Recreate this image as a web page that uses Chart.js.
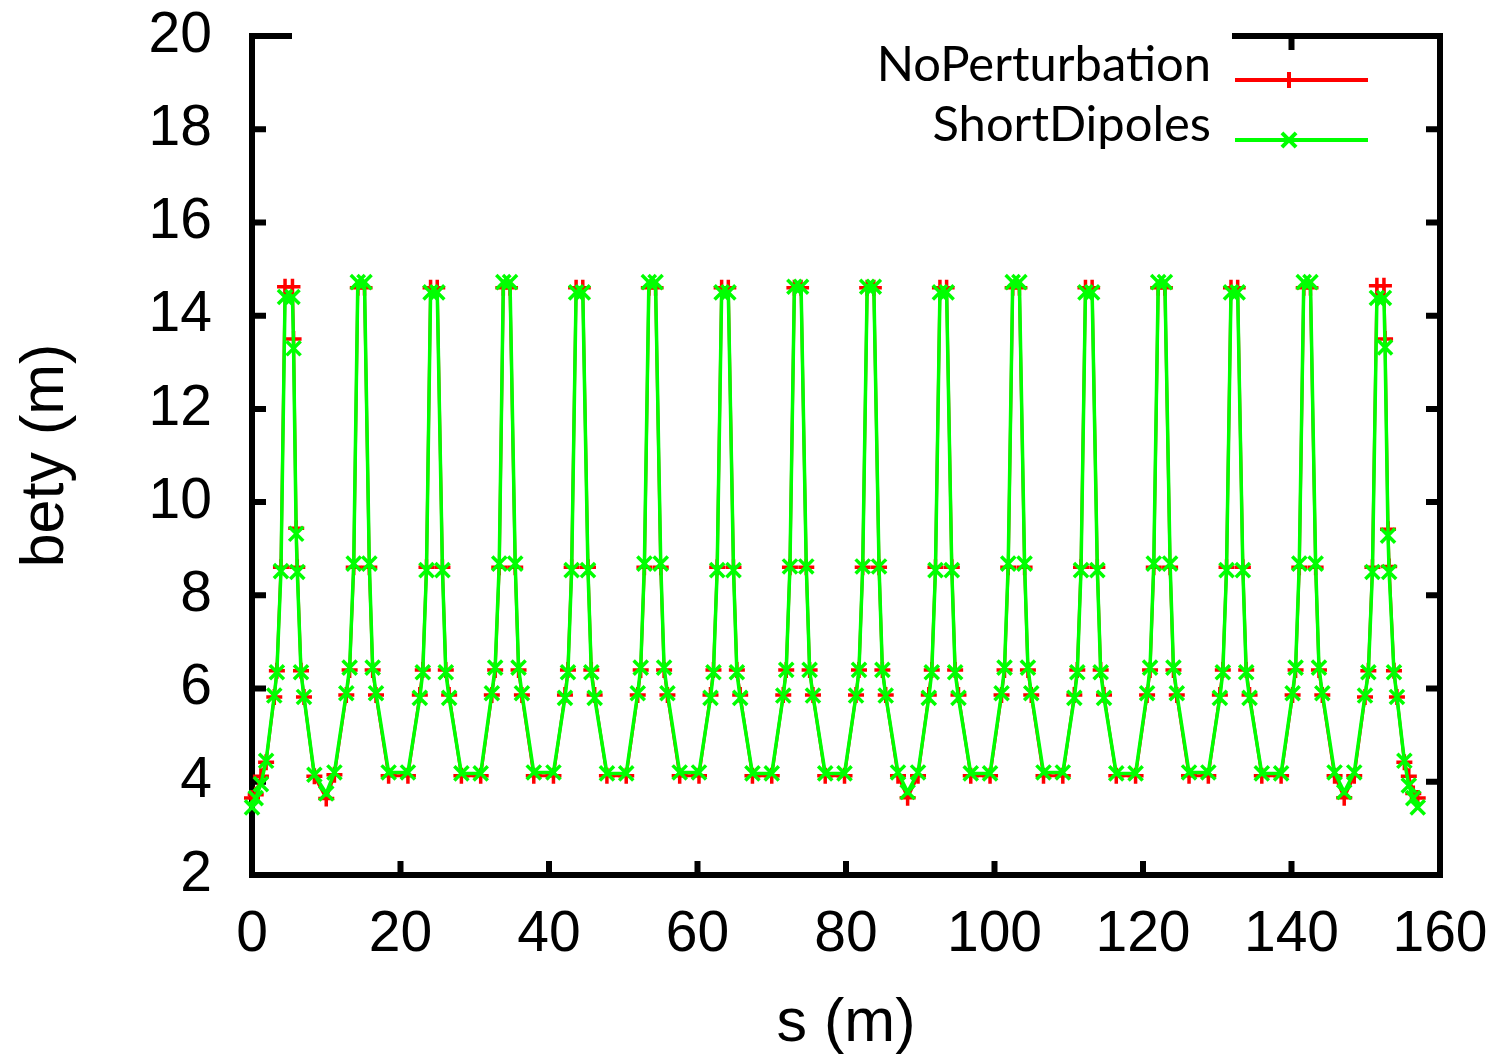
<!DOCTYPE html>
<html>
<head>
<meta charset="utf-8">
<title>bety (m)</title>
<script src="https://cdn.jsdelivr.net/npm/chart.js@4.4.1/dist/chart.umd.min.js"></script>
<style>
  html, body { margin: 0; padding: 0; background: #fff; }
  #wrap { width: 1505px; height: 1061px; position: relative; }
</style>
</head>
<body>
<div id="wrap"><canvas id="graficoBety"></canvas></div>
<script>
// posicao ao longo do anel, s (m)
const sPos = [
  0, 0.5, 1.2, 1.9,
  3.0, 3.35, 3.9, 4.45, 5.45, 5.6, 5.95, 6.1, 6.6, 7.0, 8.4, 10.0, 11.1,
  12.7, 13.15, 13.7, 14.25, 15.15, 15.8, 16.25, 16.7, 18.4, 21.0,
  22.6, 23.0, 23.5, 24.05, 24.95, 25.65, 26.1, 26.55, 28.2, 30.8,
  32.3, 32.75, 33.3, 33.85, 34.75, 35.45, 35.9, 36.35, 37.95, 40.6,
  42.15, 42.55, 43.05, 43.65, 44.55, 45.25, 45.7, 46.15, 47.8, 50.4,
  51.95, 52.35, 52.85, 53.45, 54.35, 55.05, 55.5, 55.95, 57.6, 60.2,
  61.75, 62.15, 62.65, 63.25, 64.15, 64.85, 65.3, 65.75, 67.4, 70.0,
  71.55, 71.95, 72.45, 73.05, 73.95, 74.65, 75.1, 75.55, 77.2, 79.8,
  81.35, 81.75, 82.25, 82.85, 83.75, 84.45, 84.9, 85.35, 87.0, 88.3, 89.7,
  91.15, 91.55, 92.05, 92.65, 93.55, 94.25, 94.7, 95.15, 96.8, 99.4,
  100.95, 101.35, 101.85, 102.45, 103.35, 104.05, 104.5, 104.95, 106.6, 109.2,
  110.75, 111.15, 111.65, 112.25, 113.15, 113.85, 114.3, 114.75, 116.4, 119.0,
  120.55, 120.95, 121.45, 122.05, 122.95, 123.65, 124.1, 124.55, 126.2, 128.8,
  130.35, 130.75, 131.25, 131.85, 132.75, 133.45, 133.9, 134.35, 136.0, 138.6,
  140.15, 140.55, 141.05, 141.65, 142.55, 143.25, 143.7, 144.15, 145.8, 147.1, 148.45,
  149.9, 150.35, 150.9, 151.5, 152.45, 152.6, 153.0, 153.15, 153.8, 154.2, 155.2, 155.8, 156.4, 157.0
];

// bety (m) sem perturbacao
const betyNoPerturbation = [
  3.65, 3.72, 4.12, 4.42,
  5.82, 6.38, 8.6, 14.62, 14.62, 13.5, 9.44, 8.6, 6.38, 5.82, 4.12, 3.64, 4.15,
  5.86, 6.4, 8.6, 14.6, 14.6, 8.6, 6.4, 5.86, 4.13, 4.13,
  5.86, 6.4, 8.6, 14.6, 14.6, 8.6, 6.4, 5.86, 4.13, 4.13,
  5.86, 6.4, 8.6, 14.6, 14.6, 8.6, 6.4, 5.86, 4.13, 4.13,
  5.86, 6.4, 8.6, 14.6, 14.6, 8.6, 6.4, 5.86, 4.13, 4.13,
  5.86, 6.4, 8.6, 14.6, 14.6, 8.6, 6.4, 5.86, 4.13, 4.13,
  5.86, 6.4, 8.6, 14.6, 14.6, 8.6, 6.4, 5.86, 4.13, 4.13,
  5.86, 6.4, 8.6, 14.6, 14.6, 8.6, 6.4, 5.86, 4.13, 4.13,
  5.86, 6.4, 8.6, 14.6, 14.6, 8.6, 6.4, 5.86, 4.13, 3.66, 4.13,
  5.86, 6.4, 8.6, 14.6, 14.6, 8.6, 6.4, 5.86, 4.13, 4.13,
  5.86, 6.4, 8.6, 14.6, 14.6, 8.6, 6.4, 5.86, 4.13, 4.13,
  5.86, 6.4, 8.6, 14.6, 14.6, 8.6, 6.4, 5.86, 4.13, 4.13,
  5.86, 6.4, 8.6, 14.6, 14.6, 8.6, 6.4, 5.86, 4.13, 4.13,
  5.86, 6.4, 8.6, 14.6, 14.6, 8.6, 6.4, 5.86, 4.13, 4.13,
  5.86, 6.4, 8.6, 14.6, 14.6, 8.6, 6.4, 5.86, 4.13, 3.66, 4.13,
  5.82, 6.38, 8.6, 14.64, 14.64, 13.5, 9.42, 8.62, 6.38, 5.82, 4.42, 4.12, 3.75, 3.65
];

// bety (m) com dipolos curtos
const betyShortDipoles = [
  3.45, 3.65, 3.95, 4.45,
  5.85, 6.35, 8.52, 14.4, 14.4, 13.3, 9.32, 8.5, 6.35, 5.82, 4.15, 3.75, 4.2,
  5.9, 6.45, 8.68, 14.72, 14.72, 8.68, 6.45, 5.9, 4.2, 4.2,
  5.8, 6.35, 8.54, 14.5, 14.5, 8.54, 6.35, 5.8, 4.18, 4.18,
  5.9, 6.45, 8.68, 14.72, 14.72, 8.68, 6.45, 5.9, 4.2, 4.2,
  5.8, 6.35, 8.54, 14.5, 14.5, 8.54, 6.35, 5.8, 4.18, 4.18,
  5.9, 6.45, 8.68, 14.72, 14.72, 8.68, 6.45, 5.9, 4.2, 4.2,
  5.8, 6.35, 8.54, 14.5, 14.5, 8.54, 6.35, 5.8, 4.18, 4.18,
  5.85, 6.4, 8.62, 14.62, 14.62, 8.62, 6.4, 5.85, 4.18, 4.18,
  5.85, 6.4, 8.62, 14.62, 14.62, 8.62, 6.4, 5.85, 4.2, 3.78, 4.2,
  5.8, 6.35, 8.54, 14.5, 14.5, 8.54, 6.35, 5.8, 4.18, 4.18,
  5.9, 6.45, 8.68, 14.72, 14.72, 8.68, 6.45, 5.9, 4.2, 4.2,
  5.8, 6.35, 8.54, 14.5, 14.5, 8.54, 6.35, 5.8, 4.18, 4.18,
  5.9, 6.45, 8.68, 14.72, 14.72, 8.68, 6.45, 5.9, 4.2, 4.2,
  5.8, 6.35, 8.54, 14.5, 14.5, 8.54, 6.35, 5.8, 4.18, 4.18,
  5.9, 6.45, 8.68, 14.72, 14.72, 8.68, 6.45, 5.9, 4.2, 3.78, 4.2,
  5.85, 6.35, 8.5, 14.38, 14.38, 13.32, 9.28, 8.5, 6.35, 5.82, 4.45, 3.92, 3.65, 3.45
];

const seriesNames = ['NoPerturbation', 'ShortDipoles'];
const seriesColors = ['#ff0000', '#00ff00'];
const xTicks = [0, 20, 40, 60, 80, 100, 120, 140, 160];
const yTicks = [2, 4, 6, 8, 10, 12, 14, 16, 18, 20];

const tickFont = { family: '"Liberation Sans", Arial, sans-serif', size: 57 };
const titleFont = { family: '"Liberation Sans", Arial, sans-serif', size: 61 };

// caixa do grafico desejada (px)
const areaTop = 36, areaRight = 1440;

// moldura estilo gnuplot (o topo fica parcialmente escondido pela caixa da legenda)
const moldura = {
    id: 'moldura',
    beforeDatasetsDraw(chart) {
        const { ctx, chartArea: a, scales: { x, y } } = chart;
        const gapStart = a.left + 37;
        const gapEnd = 1235;
        ctx.save();
        ctx.strokeStyle = '#000';
        ctx.lineWidth = 6;
        ctx.lineCap = 'square';
        ctx.beginPath();
        ctx.moveTo(gapStart, a.top);
        ctx.lineTo(a.left, a.top);
        ctx.lineTo(a.left, a.bottom);
        ctx.lineTo(a.right, a.bottom);
        ctx.lineTo(a.right, a.top);
        ctx.lineTo(gapEnd, a.top);
        ctx.stroke();

        ctx.lineCap = 'butt';
        ctx.beginPath();
        const tl = 14;
        yTicks.slice(1, -1).forEach(v => {
            const py = y.getPixelForValue(v);
            ctx.moveTo(a.left, py); ctx.lineTo(a.left + tl, py);
            ctx.moveTo(a.right, py); ctx.lineTo(a.right - tl, py);
        });
        xTicks.slice(1, -1).forEach(v => {
            const px = x.getPixelForValue(v);
            ctx.moveTo(px, a.bottom); ctx.lineTo(px, a.bottom - tl);
            if (px > gapEnd || px < gapStart) {
                ctx.moveTo(px, a.top); ctx.lineTo(px, a.top + tl);
            }
        });
        ctx.stroke();
        ctx.restore();
    }
};

// legenda: texto a esquerda, amostra de linha a direita
const legenda = {
    id: 'legenda',
    afterDraw(chart) {
        const { ctx } = chart;
        const textRight = 1211;
        const lineX0 = 1235, lineX1 = 1368, markX = 1289;
        const rows = [80, 140];
        ctx.save();
        ctx.font = '46px Lato, "Open Sans", sans-serif';
        let w = ctx.measureText(seriesNames[0]).width;
        const size = 46 * 334 / w;
        ctx.font = size.toFixed(1) + 'px Lato, "Open Sans", sans-serif';
        ctx.fillStyle = '#000';
        ctx.textAlign = 'right';
        ctx.textBaseline = 'alphabetic';
        chart.data.datasets.forEach((ds, i) => {
            const yy = rows[i];
            ctx.fillText(seriesNames[i], textRight, yy + 1);
            ctx.strokeStyle = ds.borderColor;
            ctx.lineWidth = 4;
            ctx.beginPath();
            ctx.moveTo(lineX0, yy);
            ctx.lineTo(lineX1, yy);
            ctx.stroke();
            Chart.helpers.drawPoint(ctx, {
                pointStyle: ds.pointStyle,
                radius: ds.pointRadius,
                rotation: 0,
                borderWidth: ds.pointBorderWidth
            }, markX, yy);
        });
        ctx.restore();
    }
};

const ctx = document.getElementById('graficoBety').getContext('2d');
new Chart(ctx, {
    type: 'scatter',
    data: {
        datasets: [
            {
                label: seriesNames[0],
                data: sPos.map((s, i) => ({ x: s, y: betyNoPerturbation[i] })),
                showLine: true,
                borderColor: seriesColors[0],
                backgroundColor: seriesColors[0],
                borderWidth: 3,
                pointStyle: 'cross',
                pointRadius: 8,
                pointBorderWidth: 3.5,
                pointBorderColor: seriesColors[0],
                order: 1,
                clip: false
            },
            {
                label: seriesNames[1],
                data: sPos.map((s, i) => ({ x: s, y: betyShortDipoles[i] })),
                showLine: true,
                borderColor: seriesColors[1],
                backgroundColor: seriesColors[1],
                borderWidth: 3.5,
                pointStyle: 'crossRot',
                pointRadius: 10,
                pointBorderWidth: 3.5,
                pointBorderColor: seriesColors[1],
                order: 0,
                clip: false
            }
        ]
    },
    options: {
        responsive: true,
        maintainAspectRatio: false,
        animation: false,
        layout: { padding: { top: 0, right: 0, left: 0, bottom: 0 } },
        plugins: {
            legend: { display: false },
            tooltip: { enabled: false }
        },
        scales: {
            x: {
                type: 'linear',
                min: xTicks[0],
                max: xTicks[xTicks.length - 1],
                afterBuildTicks: sc => { sc.ticks = xTicks.map(v => ({ value: v })); },
                afterFit: sc => { sc.height = 1061 - 875; sc.paddingRight = 1505 - areaRight; },
                grid: { display: false, drawTicks: false },
                border: { display: false },
                ticks: { color: '#000', font: tickFont, padding: 26, maxRotation: 0 },
                title: {
                    display: true,
                    text: 's (m)',
                    color: '#000',
                    font: titleFont,
                    padding: { top: 0, bottom: 0 }
                }
            },
            y: {
                type: 'linear',
                min: yTicks[0],
                max: yTicks[yTicks.length - 1],
                afterBuildTicks: sc => { sc.ticks = yTicks.map(v => ({ value: v })); },
                afterFit: sc => { sc.width = 252; sc.paddingTop = areaTop; },
                grid: { display: false, drawTicks: false },
                border: { display: false },
                ticks: { color: '#000', font: tickFont, padding: 40 },
                title: {
                    display: true,
                    text: 'bety (m)',
                    color: '#000',
                    font: titleFont,
                    padding: { top: 10, bottom: 0 }
                }
            }
        }
    },
    plugins: [moldura, legenda]
});
</script>
</body>
</html>
